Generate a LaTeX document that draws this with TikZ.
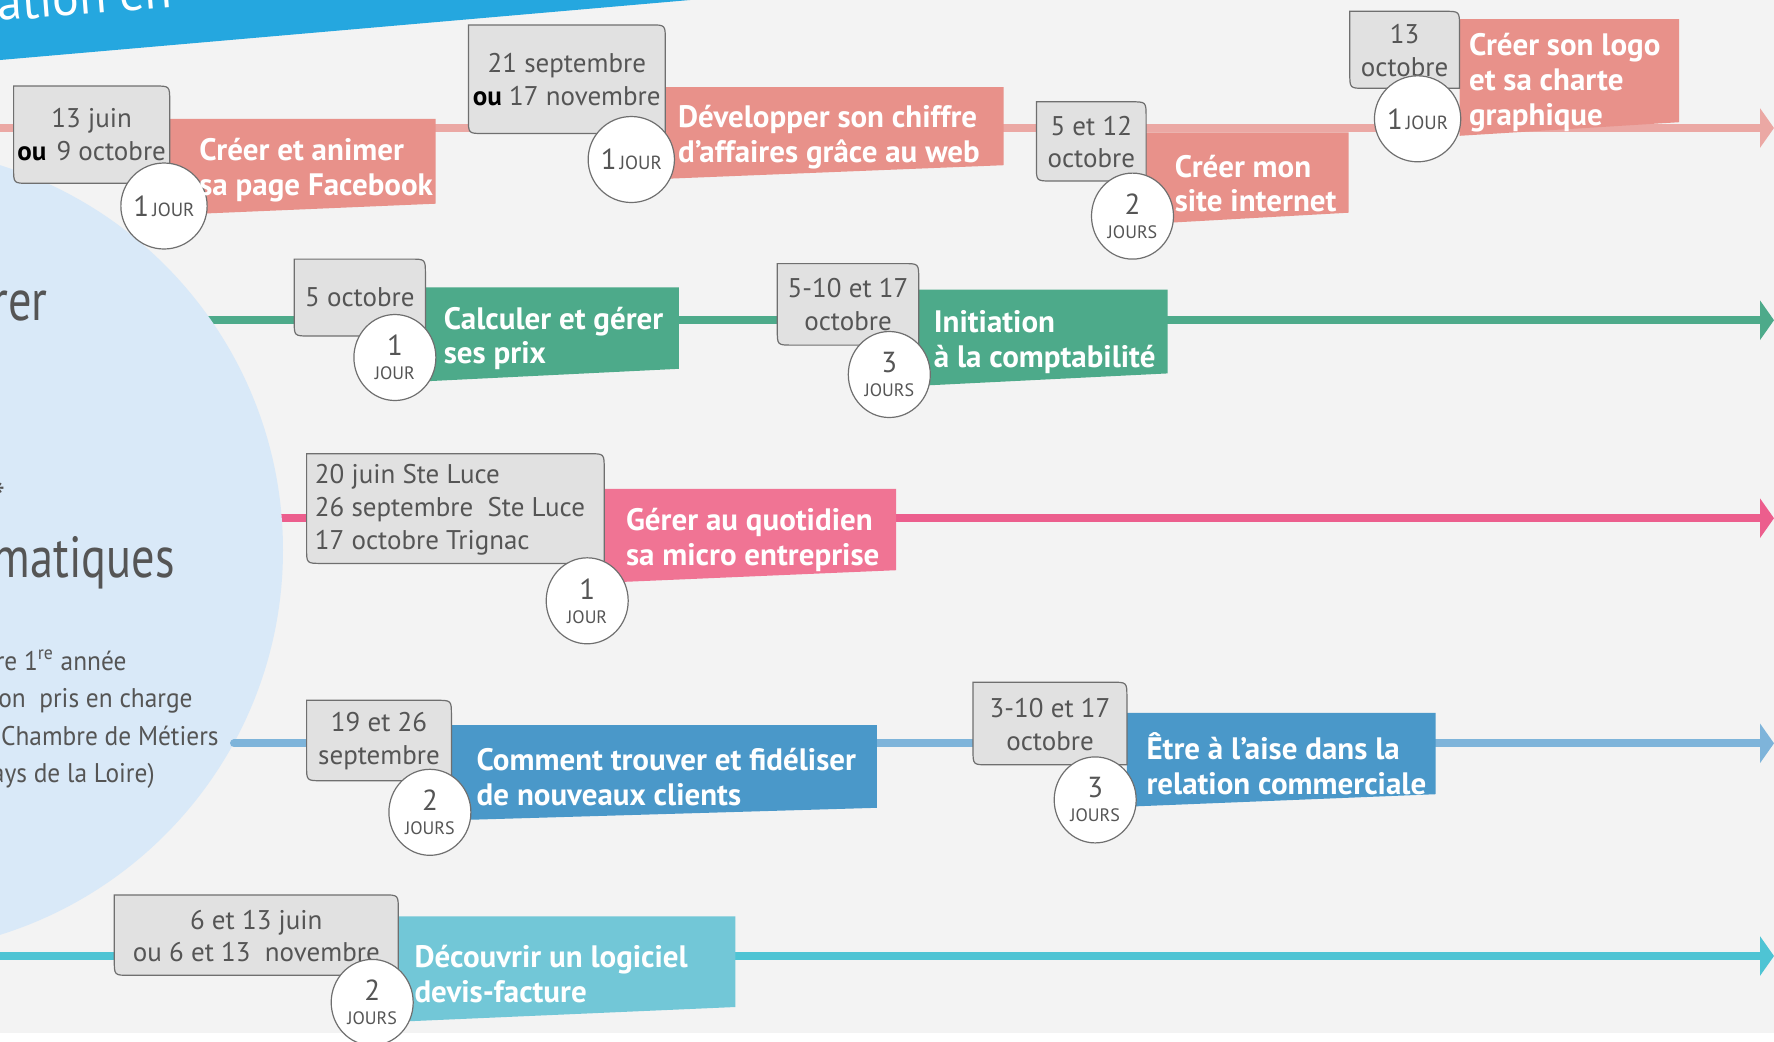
\documentclass[tikz,border=0pt]{standalone}
\usepackage{fontspec}
\setmainfont{PT Sans}
\usepackage{graphicx}
\usetikzlibrary{arrows.meta,shapes.geometric}
\definecolor{bgc}{HTML}{F3F3F3}
\definecolor{banner}{HTML}{25A7DF}
\definecolor{bigc}{HTML}{D9E9F8}
\definecolor{boxg}{HTML}{E1E1E1}
\definecolor{boxe}{HTML}{6F6F6F}
\definecolor{txtg}{HTML}{555555}
\definecolor{salL}{HTML}{E8918A}
\definecolor{salT}{HTML}{EBA8A4}
\definecolor{grn}{HTML}{4DAA8A}
\definecolor{pnkL}{HTML}{F07494}
\definecolor{pnkT}{HTML}{EC5E8D}
\definecolor{bluL}{HTML}{4A98C9}
\definecolor{bluT}{HTML}{7EB4DA}
\definecolor{cyaL}{HTML}{72C7D7}
\definecolor{cyaT}{HTML}{4EC4D4}
\newcommand{\gbox}[4]{\filldraw[gboxst] (#1,#2) -- ({#3-15},#2) .. controls (#3,#2) .. (#3,{#2+15}) -- (#3,#4) -- ({#1+15},#4) .. controls (#1,#4) .. (#1,{#4-15}) -- cycle;}
\newcommand{\labpoly}[6]{\fill[#1] (#2,#3) -- (#4,#3) -- (#4,#6) -- (#2,#5) -- cycle;}
\newcommand{\dinl}[2]{{\fontsize{14.5}{15}\selectfont #1}\hspace{1.5pt}{\fontsize{9.5}{10}\selectfont #2}}
\newcommand{\dstk}[2]{#1\\{\fontsize{9}{10}\selectfont #2}}
\newcommand{\ouB}{{\bfseries\color{black}ou}}
\newcommand{\sq}[1]{\scalebox{0.94}[1]{#1}}
\begin{document}
\begin{tikzpicture}[x=0.5pt,y=-0.5pt,
  tline/.style={line width=4pt,-{Triangle[length=7pt,width=19.5pt]}},
  gboxst/.style={fill=boxg,draw=boxe,line width=0.6pt},
  datetxt/.style={text=txtg,align=center,font=\fontsize{13.5}{16.4}\selectfont,inner sep=0pt},
  labtxt/.style={text=white,align=left,anchor=west,yshift=-1.5pt,font=\bfseries\fontsize{15.5}{17.4}\selectfont,inner sep=0pt},
  daycirc/.style={ellipse,draw=boxe,fill=white,line width=0.6pt,minimum width=41pt,minimum height=43pt,inner sep=0pt,text=txtg,align=center,font=\fontsize{14.5}{12}\selectfont},
  bigtxt/.style={text=txtg,anchor=base east,inner sep=0pt,font=\fontsize{29}{30}\selectfont},
  smalltxt/.style={text=txtg,anchor=base east,inner sep=0pt,font=\fontsize{13.5}{14}\selectfont}]
\useasboundingbox (0,0) rectangle (1774,1041);
\clip (0,0) rectangle (1774,1041);
\fill[white] (0,0) rectangle (1774,1041);
\fill[bgc] (0,0) rectangle (1774,1033);
% banner
\fill[banner] (0,0) -- (690,0) -- (0,60) -- cycle;
\node[text=white,anchor=base west,rotate=4.5,inner sep=0pt,font=\fontsize{25}{26}\selectfont] (ban) at (-2,21) {ation en};
% timelines under the big circle
\coordinate (r2s) at (150,320.2); \coordinate (r2e) at (1774,320.2);
\coordinate (r3s) at (150,518.2); \coordinate (r3e) at (1774,518.2);
\draw[tline,grn] (r2s) -- (r2e);
\draw[tline,pnkT] (r3s) -- (r3e);
% big circle
\fill[bigc] (-120,550) circle[radius=403];
\node[bigtxt] (bt1) at (48,320) {\scalebox{0.8}[1]{rer}};
\node[text=txtg,anchor=east,inner sep=0pt,font=\fontsize{20}{20}\selectfont] (bt2) at (6,497) {*};
\node[bigtxt] (bt3) at (175,577) {\scalebox{0.8}[1]{matiques}};
\node[smalltxt] (st1) at (127,670) {\sq{re 1\textsuperscript{re} année}};
\node[smalltxt] (st2) at (193,707) {\sq{ion\ \ pris en charge}};
\node[smalltxt] (st3) at (219,745) {\sq{Chambre de Métiers}};
\node[smalltxt] (st4) at (155,782) {\sq{ays de la Loire)}};
% other timelines
\coordinate (r1s) at (0,128); \coordinate (r1e) at (1774,128);
\coordinate (r4s) at (234,743.3); \coordinate (r4e) at (1774,743.3);
\coordinate (r5s) at (0,956); \coordinate (r5e) at (1774,956);
\draw[tline,salT] (r1s) -- (r1e);
\draw[tline,bluT,line cap=round] (r4s) -- (r4e);
\draw[tline,cyaT] (r5s) -- (r5e);
% ---- row 1
\labpoly{salL}{169.7}{118.8}{435.6}{215}{203.7}
\gbox{13.6}{86}{169.7}{183.3}
\node[datetxt] (dA1) at (91.7,134.6) {13 juin\\\ouB\hspace{5pt}9 octobre};
\node[daycirc] (cA1) at (164,206) {\dinl{1}{JOUR}};
\node[labtxt] (tA1) at (199,166.9) {Créer et animer\\sa page Facebook};
\labpoly{salL}{665.3}{87.1}{1003.6}{178.8}{165.2}
\gbox{468.4}{24.9}{665.3}{133.5}
\node[datetxt] (dA2) at (566.8,79.5) {21 septembre\\\ouB\ 17 novembre};
\node[daycirc] (cA2) at (631.3,159.5) {\dinl{1}{JOUR}};
\node[labtxt] (tA2) at (677.7,134.1) {Développer son chiffre\\d’affaires grâce au web};
\labpoly{salL}{1146.1}{132.4}{1348.6}{224}{212.7}
\gbox{1036.4}{101.8}{1146.1}{181}
\node[datetxt] (dA3) at (1091.3,142) {5 et 12\\octobre};
\node[daycirc] (cA3) at (1132.5,216.1) {\dstk{2}{JOURS}};
\node[labtxt] (tA3) at (1174.4,180.5) {Créer mon\\site internet};
\labpoly{salL}{1459.5}{19.2}{1679}{135.8}{122.2}
\gbox{1349.8}{11.3}{1459.5}{88.3}
\node[datetxt] (dA4) at (1404.6,50.4) {13\\octobre};
\node[daycirc] (cA4) at (1417.6,118.8) {\dinl{1}{JOUR}};
\node[labtxt] (tA4) at (1468.6,79.8) {Créer son logo\\et sa charte\\graphique};
% ---- row 2
\labpoly{grn}{425.4}{287.4}{678.8}{381.3}{368.8}
\gbox{294.2}{259.1}{425.4}{336}
\node[datetxt] (dB1) at (359.8,297.5) {5 octobre};
\node[daycirc] (cB1) at (394.9,357.5) {\dstk{1}{JOUR}};
\node[labtxt] (tB1) at (443.5,335.5) {Calculer et gérer\\ses prix};
\labpoly{grn}{918.7}{289.6}{1167.6}{385.8}{373.4}
\gbox{777.3}{263.6}{918.7}{345.1}
\node[datetxt] (dB2) at (848,304.3) {5-10 et 17\\octobre};
\node[daycirc] (cB2) at (889.3,374.5) {\dstk{3}{JOURS}};
\node[labtxt] (tB2) at (933.4,338.9) {Initiation\\à la comptabilité};
% ---- row 3
\labpoly{pnkL}{604.2}{488.8}{896.1}{582.7}{570.2}
\gbox{306.6}{453.7}{604.2}{563.4}
\node[datetxt,align=left,anchor=west] (dC1) at (314.5,509.9) {20 juin Ste Luce\\26 septembre\ \ Ste Luce\\17 octobre Trignac};
\node[daycirc] (cC1) at (587.2,600.8) {\dstk{1}{JOUR}};
\node[labtxt] (tC1) at (625.7,536.9) {Gérer au quotidien\\sa micro entreprise};
% ---- row 4
\labpoly{bluL}{451.4}{725.2}{876.8}{820.3}{807.8}
\gbox{306.6}{700.3}{451.4}{780.7}
\node[datetxt] (dD1) at (379,741) {19 et 26\\septembre};
\node[daycirc] (cD1) at (429.9,812.3) {\dstk{2}{JOURS}};
\node[labtxt] (tD1) at (476.3,774.4) {Comment trouver et fidéliser\\de nouveaux clients};
\labpoly{bluL}{1126.9}{712.8}{1435.7}{806.7}{794.2}
\gbox{973}{682.2}{1126.9}{764.8}
\node[datetxt] (dD2) at (1050,724.5) {3-10 et 17\\octobre};
\node[daycirc] (cD2) at (1095.2,799.9) {\dstk{3}{JOURS}};
\node[labtxt] (tD2) at (1146.1,760.9) {Être à l’aise dans la\\relation commerciale};
% ---- row 5
\labpoly{cyaL}{398.3}{916.4}{735.4}{1021.7}{1007}
\gbox{114.3}{894.9}{398.3}{975.3}
\node[datetxt] (dE1) at (256.3,936) {6 et 13 juin\\ou 6 et 13\ \ novembre};
\node[daycirc] (cE1) at (372.2,1002.4) {\dstk{2}{JOURS}};
\node[labtxt] (tE1) at (414.1,971.3) {Découvrir un logiciel\\devis-facture};
\end{tikzpicture}
\end{document}
